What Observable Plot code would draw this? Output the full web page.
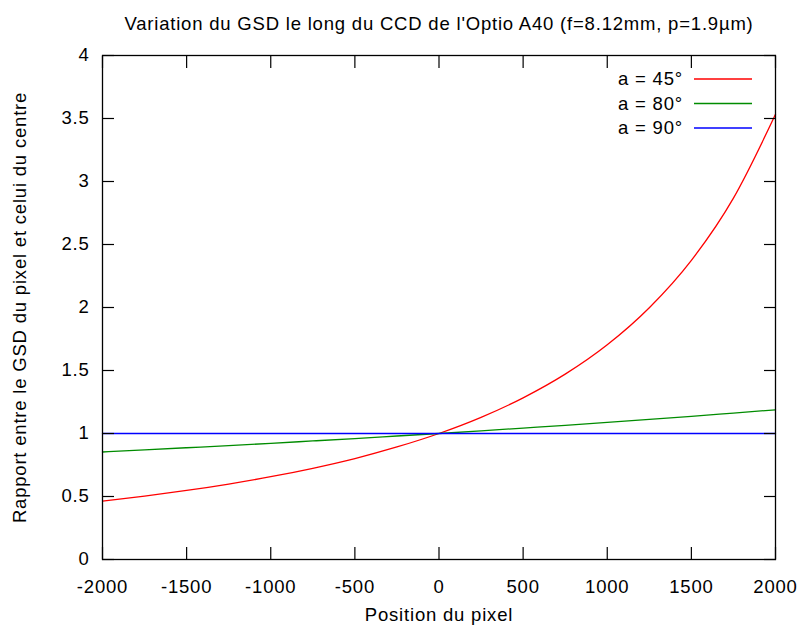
<!DOCTYPE html>
<html><head><meta charset="utf-8">
<script src="https://cdn.jsdelivr.net/npm/d3@7"></script>
<script src="https://cdn.jsdelivr.net/npm/@observablehq/plot@0.6"></script>
<style>
body{margin:0;background:#fff;}
#wrap{position:relative;width:798px;height:632px;}
#wrap svg text{font-family:"Liberation Sans", Arial, sans-serif;}
#legend{position:absolute;left:0;top:0;}
</style></head><body><div id="wrap"></div>
<script>
const positions = [-2000,-1750,-1500,-1250,-1000,-750,-500,-250,0,250,500,750,1000,1250,1500,1750,2000];
const ratio45 = [0.464,0.503,0.548,0.599,0.657,0.724,0.801,0.893,1,1.128,1.283,1.471,1.704,1.998,2.374,2.868,3.533];
const ratio80 = [0.853,0.870,0.887,0.904,0.922,0.941,0.960,0.980,1,1.021,1.043,1.065,1.088,1.112,1.136,1.162,1.188];
const ratio90 = [1,1,1,1,1,1,1,1,1,1,1,1,1,1,1,1,1];
const seriesNames = ["a = 45°","a = 80°","a = 90°"];
const seriesColors = ["#ff0000","#008c00","#0000ff"];
const xTicks = [-2000,-1500,-1000,-500,0,500,1000,1500,2000];
const yTicks = [0,0.5,1,1.5,2,2.5,3,3.5,4];
const titleText = "Variation du GSD le long du CCD de l'Optio A40 (f=8.12mm, p=1.9µm)";
const xLabel = "Position du pixel";
const yLabel = "Rapport entre le GSD du pixel et celui du centre";

const rows = [];
[ratio45, ratio80, ratio90].forEach((vals, i) =>
  vals.forEach((v, j) => rows.push({x: positions[j], y: v, s: seriesNames[i]})));

const FS = 18.5, LS = "0.8px";
const fmt = d => String(d);
const chart = Plot.plot({
  width: 798, height: 632,
  marginLeft: 102, marginRight: 23, marginTop: 55, marginBottom: 73,
  style: {fontFamily: '"Liberation Sans", Arial, sans-serif', fontSize: FS + "px", background: "white", letterSpacing: LS, color: "black"},
  x: {domain: [-2000, 2000]},
  y: {domain: [0, 4]},
  color: {domain: seriesNames, range: seriesColors},
  marks: [
    Plot.line(rows, {x: "x", y: "y", stroke: "s", z: "s", strokeWidth: 1.3, curve: "monotone-x"}),
    Plot.frame({stroke: "black", strokeWidth: 1.3}),
    Plot.axisX(xTicks, {anchor: "bottom", tickSize: -12, tickPadding: 32, tickFormat: fmt, label: null, strokeWidth: 1.2, fontSize: FS}),
    Plot.axisX(xTicks, {anchor: "top", tickSize: -12, tickFormat: () => "", label: null, strokeWidth: 1.2}),
    Plot.axisY(yTicks, {anchor: "left", tickSize: -12, tickPadding: 25, tickFormat: fmt, label: null, strokeWidth: 1.2, fontSize: FS}),
    Plot.axisY(yTicks, {anchor: "right", tickSize: -12, tickFormat: () => "", label: null, strokeWidth: 1.2}),
    Plot.text([titleText], {frameAnchor: "top", dy: -39, fontSize: FS, fill: "black"}),
    Plot.text([xLabel], {frameAnchor: "bottom", dy: 61, fontSize: FS, fill: "black"}),
    Plot.text([yLabel], {frameAnchor: "left", textAnchor: "middle", dx: -82, rotate: -90, fontSize: FS, fill: "black"})
  ]
});
const wrap = document.getElementById("wrap");
wrap.appendChild(chart);

// legend overlay
const leg = d3.select(wrap).append("svg").attr("id", "legend").attr("width", 798).attr("height", 632);
const rowY = [79, 103.5, 128];
seriesNames.forEach((name, i) => {
  leg.append("text").attr("x", 683).attr("y", rowY[i]).attr("dy", "0.35em")
    .attr("text-anchor", "end").style("font-size", FS + "px").style("letter-spacing", LS)
    .attr("fill", "black").text(name);
  leg.append("line").attr("x1", 694).attr("x2", 752).attr("y1", rowY[i]).attr("y2", rowY[i])
    .attr("stroke", seriesColors[i]).attr("stroke-width", 1.3);
});
</script>
</body></html>
